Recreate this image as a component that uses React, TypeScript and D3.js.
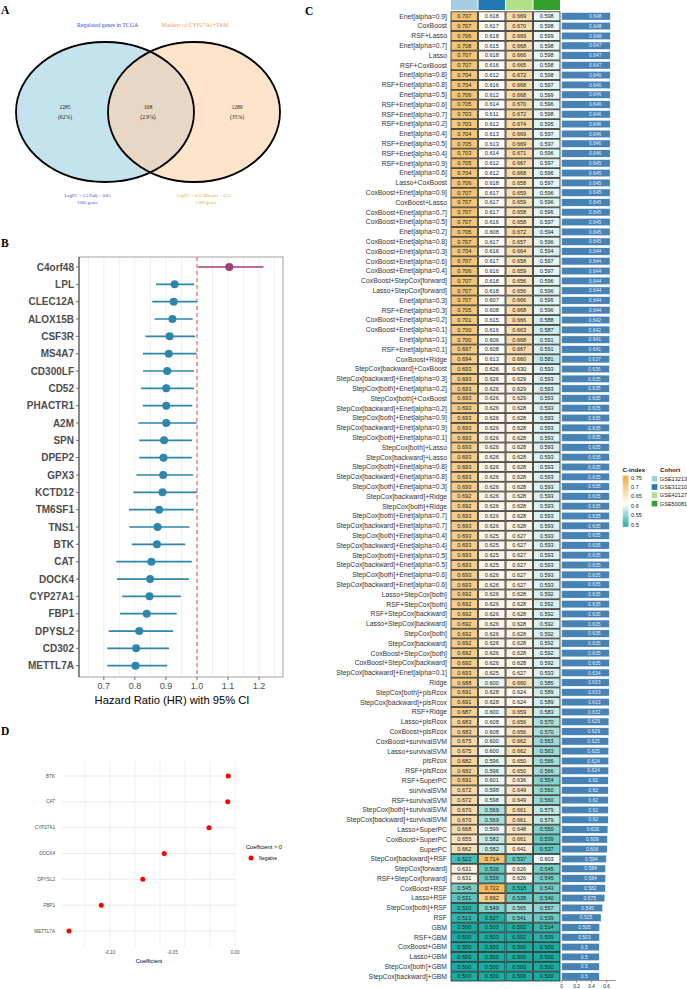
import React from "react";
import * as d3 from "d3";

// ---------- panel A: venn ----------
const vennSets = ["Regulated genes in TCGA", "Markers of CYP27A1+TAM"];
const vennFilters = ["LogFC > 1.5 Padj < 0.05", "LogFC > 0.25 Min.pct = 0.25"];
const vennTotals = ["2285 genes", "1289 genes"];
const vennCounts = [2285, 108, 1289];
const vennShares = ["62%", "2.9%", "35%"];

// ---------- panel B: univariate cox forest ----------
const forestGenes = ["C4orf48", "LPL", "CLEC12A", "ALOX15B", "CSF3R", "MS4A7", "CD300LF", "CD52",
  "PHACTR1", "A2M", "SPN", "DPEP2", "GPX3", "KCTD12", "TM6SF1", "TNS1", "BTK", "CAT", "DOCK4",
  "CYP27A1", "FBP1", "DPYSL2", "CD302", "METTL7A"];
const forestHR = [1.104, 0.928, 0.925, 0.921, 0.912, 0.909, 0.904, 0.901, 0.901, 0.901, 0.894, 0.892,
  0.891, 0.889, 0.878, 0.873, 0.871, 0.853, 0.849, 0.847, 0.838, 0.814, 0.804, 0.802];
const forestLow = [1.004, 0.868, 0.856, 0.863, 0.834, 0.826, 0.826, 0.820, 0.825, 0.811, 0.814, 0.814,
  0.805, 0.795, 0.781, 0.782, 0.790, 0.740, 0.742, 0.759, 0.752, 0.716, 0.711, 0.711];
const forestHigh = [1.214, 0.991, 0.999, 0.986, 0.994, 0.999, 0.990, 0.990, 0.985, 0.999, 0.984, 0.983,
  0.988, 0.999, 0.990, 0.976, 0.962, 0.983, 0.974, 0.948, 0.935, 0.923, 0.910, 0.904];

// ---------- panel D: lasso coefficients ----------
const coefGenes = ["BTK", "CAT", "CYP27A1", "DOCK4", "DPYSL2", "FBP1", "METTL7A"];
const coefValues = [-0.0054, -0.0058, -0.0208, -0.0566, -0.0738, -0.107, -0.1328];

// ---------- panel C: C-index heatmap ----------
const cohorts = ["GSE13213", "GSE31210", "GSE42127", "GSE50081"];
const cohortColors = ["#a6cee3", "#1f78b4", "#b2df8a", "#33a02c"];
const models = [
  "Enet[alpha=0.9]", "CoxBoost", "RSF+Lasso", "Enet[alpha=0.7]", "Lasso", "RSF+CoxBoost",
  "Enet[alpha=0.8]", "RSF+Enet[alpha=0.8]", "Enet[alpha=0.5]", "RSF+Enet[alpha=0.6]",
  "RSF+Enet[alpha=0.7]", "RSF+Enet[alpha=0.2]", "Enet[alpha=0.4]", "RSF+Enet[alpha=0.5]",
  "RSF+Enet[alpha=0.4]", "RSF+Enet[alpha=0.9]", "Enet[alpha=0.6]", "Lasso+CoxBoost",
  "CoxBoost+Enet[alpha=0.9]", "CoxBoost+Lasso", "CoxBoost+Enet[alpha=0.7]", "CoxBoost+Enet[alpha=0.5]",
  "Enet[alpha=0.2]", "CoxBoost+Enet[alpha=0.8]", "CoxBoost+Enet[alpha=0.3]", "CoxBoost+Enet[alpha=0.6]",
  "CoxBoost+Enet[alpha=0.4]", "CoxBoost+StepCox[forward]", "Lasso+StepCox[forward]", "Enet[alpha=0.3]",
  "RSF+Enet[alpha=0.3]", "CoxBoost+Enet[alpha=0.2]", "CoxBoost+Enet[alpha=0.1]", "Enet[alpha=0.1]",
  "RSF+Enet[alpha=0.1]", "CoxBoost+Ridge", "StepCox[backward]+CoxBoost", "StepCox[backward]+Enet[alpha=0.3]",
  "StepCox[both]+Enet[alpha=0.2]", "StepCox[both]+CoxBoost", "StepCox[backward]+Enet[alpha=0.2]",
  "StepCox[both]+Enet[alpha=0.9]", "StepCox[backward]+Enet[alpha=0.9]", "StepCox[both]+Enet[alpha=0.1]",
  "StepCox[both]+Lasso", "StepCox[backward]+Lasso", "StepCox[both]+Enet[alpha=0.8]",
  "StepCox[backward]+Enet[alpha=0.8]", "StepCox[both]+Enet[alpha=0.3]", "StepCox[backward]+Ridge",
  "StepCox[both]+Ridge", "StepCox[both]+Enet[alpha=0.7]", "StepCox[backward]+Enet[alpha=0.7]",
  "StepCox[both]+Enet[alpha=0.4]", "StepCox[backward]+Enet[alpha=0.4]", "StepCox[both]+Enet[alpha=0.5]",
  "StepCox[backward]+Enet[alpha=0.5]", "StepCox[both]+Enet[alpha=0.6]", "StepCox[backward]+Enet[alpha=0.6]",
  "Lasso+StepCox[both]", "RSF+StepCox[both]", "RSF+StepCox[backward]", "Lasso+StepCox[backward]",
  "StepCox[both]", "StepCox[backward]", "CoxBoost+StepCox[both]", "CoxBoost+StepCox[backward]",
  "StepCox[backward]+Enet[alpha=0.1]", "Ridge", "StepCox[both]+plsRcox", "StepCox[backward]+plsRcox",
  "RSF+Ridge", "Lasso+plsRcox", "CoxBoost+plsRcox", "CoxBoost+survivalSVM", "Lasso+survivalSVM",
  "plsRcox", "RSF+plsRcox", "RSF+SuperPC", "survivalSVM", "RSF+survivalSVM", "StepCox[both]+survivalSVM",
  "StepCox[backward]+survivalSVM", "Lasso+SuperPC", "CoxBoost+SuperPC", "SuperPC", "StepCox[backward]+RSF",
  "StepCox[forward]", "RSF+StepCox[forward]", "CoxBoost+RSF", "Lasso+RSF", "StepCox[both]+RSF", "RSF",
  "GBM", "RSF+GBM", "CoxBoost+GBM", "Lasso+GBM", "StepCox[both]+GBM", "StepCox[backward]+GBM",
];
const cGSE13213 = [
  0.707, 0.707, 0.706, 0.708, 0.707, 0.707, 0.704, 0.704, 0.706, 0.705,
  0.703, 0.703, 0.704, 0.705, 0.703, 0.705, 0.704, 0.706, 0.707, 0.707,
  0.707, 0.707, 0.705, 0.707, 0.704, 0.707, 0.706, 0.707, 0.707, 0.707,
  0.705, 0.701, 0.700, 0.700, 0.697, 0.694, 0.693, 0.693, 0.693, 0.693,
  0.693, 0.693, 0.693, 0.693, 0.693, 0.693, 0.693, 0.693, 0.693, 0.692,
  0.692, 0.693, 0.693, 0.693, 0.693, 0.693, 0.693, 0.693, 0.693, 0.692,
  0.692, 0.692, 0.692, 0.692, 0.692, 0.692, 0.692, 0.693, 0.688, 0.691,
  0.691, 0.687, 0.683, 0.683, 0.675, 0.675, 0.682, 0.682, 0.691, 0.672,
  0.672, 0.670, 0.670, 0.668, 0.655, 0.662, 0.522, 0.631, 0.631, 0.545,
  0.531, 0.510, 0.513, 0.500, 0.500, 0.500, 0.500, 0.500, 0.500,
];
const cGSE31210 = [
  0.618, 0.617, 0.618, 0.615, 0.618, 0.616, 0.612, 0.616, 0.612, 0.614,
  0.611, 0.612, 0.613, 0.613, 0.614, 0.612, 0.612, 0.618, 0.617, 0.617,
  0.617, 0.616, 0.608, 0.617, 0.616, 0.617, 0.616, 0.618, 0.618, 0.607,
  0.608, 0.615, 0.616, 0.606, 0.608, 0.613, 0.626, 0.626, 0.626, 0.626,
  0.626, 0.626, 0.626, 0.626, 0.626, 0.626, 0.626, 0.626, 0.626, 0.626,
  0.626, 0.626, 0.626, 0.625, 0.625, 0.625, 0.625, 0.626, 0.626, 0.626,
  0.626, 0.626, 0.626, 0.626, 0.626, 0.626, 0.626, 0.625, 0.600, 0.628,
  0.628, 0.600, 0.608, 0.608, 0.600, 0.600, 0.596, 0.596, 0.601, 0.598,
  0.598, 0.569, 0.569, 0.599, 0.582, 0.582, 0.714, 0.536, 0.536, 0.722,
  0.692, 0.549, 0.507, 0.503, 0.503, 0.500, 0.500, 0.500, 0.500,
];
const cGSE42127 = [
  0.669, 0.670, 0.669, 0.668, 0.666, 0.665, 0.672, 0.668, 0.668, 0.670,
  0.672, 0.674, 0.669, 0.669, 0.671, 0.667, 0.668, 0.658, 0.659, 0.659,
  0.658, 0.658, 0.672, 0.657, 0.664, 0.658, 0.659, 0.656, 0.656, 0.666,
  0.668, 0.666, 0.663, 0.668, 0.667, 0.660, 0.630, 0.629, 0.629, 0.629,
  0.628, 0.628, 0.628, 0.628, 0.628, 0.628, 0.628, 0.628, 0.628, 0.628,
  0.628, 0.628, 0.628, 0.627, 0.627, 0.627, 0.627, 0.627, 0.627, 0.628,
  0.628, 0.628, 0.628, 0.628, 0.628, 0.628, 0.628, 0.627, 0.660, 0.624,
  0.624, 0.659, 0.656, 0.656, 0.662, 0.662, 0.650, 0.650, 0.636, 0.649,
  0.649, 0.661, 0.661, 0.648, 0.661, 0.641, 0.537, 0.626, 0.626, 0.518,
  0.538, 0.565, 0.541, 0.502, 0.502, 0.500, 0.500, 0.500, 0.500,
];
const cGSE50081 = [
  0.598, 0.598, 0.599, 0.598, 0.598, 0.598, 0.598, 0.597, 0.599, 0.596,
  0.598, 0.595, 0.597, 0.597, 0.596, 0.597, 0.596, 0.597, 0.596, 0.596,
  0.596, 0.597, 0.594, 0.596, 0.594, 0.597, 0.597, 0.596, 0.596, 0.596,
  0.596, 0.588, 0.587, 0.591, 0.591, 0.581, 0.593, 0.593, 0.593, 0.593,
  0.593, 0.593, 0.593, 0.593, 0.593, 0.593, 0.593, 0.593, 0.593, 0.593,
  0.593, 0.593, 0.593, 0.593, 0.593, 0.593, 0.593, 0.593, 0.593, 0.592,
  0.592, 0.592, 0.592, 0.592, 0.592, 0.592, 0.592, 0.593, 0.585, 0.589,
  0.589, 0.583, 0.570, 0.570, 0.563, 0.563, 0.566, 0.566, 0.554, 0.560,
  0.560, 0.579, 0.579, 0.550, 0.539, 0.537, 0.603, 0.545, 0.545, 0.543,
  0.540, 0.557, 0.539, 0.514, 0.509, 0.500, 0.500, 0.500, 0.500,
];
const meanC = [
  0.648, 0.648, 0.648, 0.647, 0.647, 0.647, 0.646, 0.646, 0.646, 0.646,
  0.646, 0.646, 0.646, 0.646, 0.646, 0.645, 0.645, 0.645, 0.645, 0.645,
  0.645, 0.645, 0.645, 0.645, 0.644, 0.644, 0.644, 0.644, 0.644, 0.644,
  0.644, 0.642, 0.642, 0.641, 0.641, 0.637, 0.635, 0.635, 0.635, 0.635,
  0.635, 0.635, 0.635, 0.635, 0.635, 0.635, 0.635, 0.635, 0.635, 0.635,
  0.635, 0.635, 0.635, 0.635, 0.635, 0.635, 0.635, 0.635, 0.635, 0.635,
  0.635, 0.635, 0.635, 0.635, 0.635, 0.635, 0.635, 0.634, 0.633, 0.633,
  0.633, 0.632, 0.629, 0.629, 0.625, 0.625, 0.624, 0.624, 0.62, 0.62,
  0.62, 0.62, 0.62, 0.616, 0.609, 0.606, 0.594, 0.584, 0.584, 0.582,
  0.575, 0.545, 0.525, 0.505, 0.503, 0.5, 0.5, 0.5, 0.5,
];
const legendTicks = [0.75, 0.7, 0.65, 0.6, 0.55, 0.5];
const barTicks = [0, 0.2, 0.4, 0.6];

const sans = "'Liberation Sans', Arial, sans-serif";
const serif = "'Liberation Serif', 'Times New Roman', serif";

const PanelLabel = ({ x, y, t }: { x: number; y: number; t: string }) => (
  <text x={x} y={y} fontFamily={serif} fontWeight="bold" fontSize={11.5}>{t}</text>
);

const Venn = () => {
  const L = { cx: 105, cy: 112, rx: 89, ry: 70 };
  const R = { cx: 194, cy: 112, rx: 86, ry: 70 };
  const cx = [65, 148, 237];
  return (
    <g fontFamily={serif}>
      <defs>
        <clipPath id="vennLeft"><ellipse {...L} /></clipPath>
      </defs>
      <ellipse {...L} fill="#c5e3ed" />
      <ellipse {...R} fill="#fde4cb" />
      <ellipse {...R} fill="#e7d7c4" clipPath="url(#vennLeft)" />
      <ellipse {...L} fill="none" stroke="#000" strokeWidth={1.8} />
      <ellipse {...R} fill="none" stroke="#000" strokeWidth={1.8} />
      <text x={107.5} y={27} fontSize={5.8} fill="#4444ee" textAnchor="middle">{vennSets[0]}</text>
      <text x={195} y={27} fontSize={5.8} fill="#f5a040" textAnchor="middle">{vennSets[1]}</text>
      {vennCounts.map((c, i) => (
        <g key={i} fontSize={5.6} fill="#222" textAnchor="middle">
          <text x={cx[i]} y={109}>{c}</text>
          <text x={cx[i]} y={119}>({vennShares[i]})</text>
        </g>
      ))}
      <g fontSize={4.6} textAnchor="middle">
        <text x={87.5} y={197} fill="#4444ee">{vennFilters[0]}</text>
        <text x={87.5} y={204} fill="#4444ee">{vennTotals[0]}</text>
        <text x={204} y={197} fill="#f5a040">{vennFilters[1]}</text>
        <text x={206} y={204} fill="#f5a040">{vennTotals[1]}</text>
      </g>
    </g>
  );
};

const Forest = () => {
  const left = 79, right = 283, top = 257, bottom = 677;
  const x = d3.scaleLinear().domain([0.62, 1.277]).range([left, right]);
  const y = d3.scalePoint<string>().domain(forestGenes).range([267, 665.7]);
  const minor = x.ticks(14);
  const major = x.ticks(6);
  return (
    <g fontFamily={sans}>
      <rect x={left} y={top} width={right - left} height={bottom - top} fill="#fff" />
      {minor.map((t) => (
        <line key={t} x1={x(t)} x2={x(t)} y1={top} y2={bottom} stroke="#ebebeb" strokeWidth={0.8} />
      ))}
      <line x1={x(1)} x2={x(1)} y1={top} y2={bottom} stroke="#f24a4a" strokeWidth={1} strokeDasharray="4,3" />
      {forestGenes.map((g, i) => {
        const c = i === 0 ? "#A23B72" : "#2E86AB";
        return (
          <g key={g}>
            <line x1={x(forestLow[i])} x2={x(forestHigh[i])} y1={y(g)} y2={y(g)} stroke={c} strokeWidth={1.7} />
            <circle cx={x(forestHR[i])} cy={y(g)} r={4} fill={c} />
            <line x1={left - 3} x2={left} y1={y(g)} y2={y(g)} stroke="#333" strokeWidth={0.7} />
            <text x={left - 5} y={y(g)} dy="0.35em" textAnchor="end" fontWeight="bold" fontSize={10} fill="#4d4d4d">{g}</text>
          </g>
        );
      })}
      <rect x={left} y={top} width={right - left} height={bottom - top} fill="none" stroke="#8c8c8c" strokeWidth={0.8} />
      <line x1={left} x2={left} y1={top} y2={bottom} stroke="#333" strokeWidth={0.9} />
      {major.map((t) => (
        <g key={t}>
          <line x1={x(t)} x2={x(t)} y1={bottom} y2={bottom + 3} stroke="#333" strokeWidth={0.7} />
          <text x={x(t)} y={bottom + 12} textAnchor="middle" fontSize={9} fill="#4d4d4d">{d3.format(".1f")(t)}</text>
        </g>
      ))}
      <text x={(left + right) / 2 - 9} y={704} textAnchor="middle" fontSize={11.2} fill="#000">Hazard Ratio (HR) with 95% CI</text>
    </g>
  );
};

const Lollipop = () => {
  const left = 62, right = 236, top = 760, bottom = 947;
  const x = d3.scaleLinear().domain([-0.1384, 0.0008]).range([left, right]);
  const y = d3.scalePoint<string>().domain(coefGenes).range([776, 931]);
  const fmt = (v: number) => d3.format(".2f")(v).replace("\u2212", "-");
  return (
    <g fontFamily={sans}>
      {x.ticks(6).map((t) => (
        <line key={t} x1={x(t)} x2={x(t)} y1={top} y2={bottom} stroke="#ebebeb" strokeWidth={0.8} />
      ))}
      {coefGenes.map((g, i) => (
        <g key={g}>
          <line x1={left} x2={right} y1={y(g)} y2={y(g)} stroke="#ebebeb" strokeWidth={1} />
          <text x={55} y={y(g)} dy="0.35em" textAnchor="end" fontSize={4.6} fill="#4d4d4d">{g}</text>
          <circle cx={x(coefValues[i])} cy={y(g)} r={2.5} fill="#ff0000" />
        </g>
      ))}
      {x.ticks(3).map((t) => (
        <text key={t} x={x(t)} y={954} textAnchor="middle" fontSize={4.6} fill="#4d4d4d">{fmt(t)}</text>
      ))}
      <text x={(left + right) / 2} y={963} textAnchor="middle" fontSize={5.6} fill="#000">Coefficient</text>
      <text x={246} y={849} fontSize={5.6} fill="#000">Coefficient &gt; 0</text>
      <circle cx={251} cy={858} r={2.5} fill="#ff0000" />
      <text x={259} y={858} dy="0.35em" fontSize={4.6} fill="#000">Negative</text>
    </g>
  );
};

const Heatmap = () => {
  const values = [cGSE13213, cGSE31210, cGSE42127, cGSE50081];
  const y = d3.scaleBand<string>().domain(models).range([11.8, 981]).paddingInner(0.08);
  const x = d3.scaleBand<string>().domain(cohorts).range([451, 560]).paddingInner(0.035);
  const xb = d3.scaleLinear().domain([0, 0.6]).range([561.7, 606.7]);
  const color = d3.scaleLinear<string>().domain([0.5, 0.61, 0.75])
    .range(["#17ada1", "#ffffff", "#f0aa36"]).clamp(true);
  const bh = 7.4;
  const yl = d3.scaleLinear().domain([0.5, 0.75]).range([524.7, 477.7]);
  const gradStops = [0.75, 0.72, 0.69, 0.66, 0.63, 0.61, 0.59, 0.57, 0.55, 0.53, 0.5];
  return (
    <g fontFamily={sans}>
      <defs>
        <linearGradient id="cGrad" x1="0" y1="0" x2="0" y2="1">
          {gradStops.map((v) => (
            <stop key={v} offset={(0.75 - v) / 0.25} stopColor={color(v)} />
          ))}
        </linearGradient>
      </defs>
      {cohorts.map((c, j) => (
        <rect key={c} x={x(c)} y={0} width={x.bandwidth()} height={10} fill={cohortColors[j]} />
      ))}
      {models.map((m, i) => {
        const yy = y(m)!;
        const cy = yy + y.bandwidth() / 2;
        return (
          <g key={m}>
            <text x={447} y={cy} dy="0.35em" textAnchor="end" fontSize={6.8} fill="#333">{m}</text>
            {cohorts.map((c, j) => (
              <g key={c}>
                <rect x={x(c)} y={yy} width={x.bandwidth()} height={y.bandwidth()}
                  fill={color(values[j][i])} stroke="#2a2a2a" strokeWidth={0.8} />
                <text x={x(c)! + x.bandwidth() / 2} y={cy} dy="0.35em" textAnchor="middle" fontSize={5.6} fill="#222">
                  {values[j][i].toFixed(3)}
                </text>
              </g>
            ))}
            <rect x={xb(0)} y={cy - bh / 2} width={xb(meanC[i]) - xb(0)} height={bh}
              fill="#4682b4" stroke="#ffffff" strokeWidth={0.4} />
            <text x={xb(meanC[i] - 0.2)} y={cy} dy="0.35em" textAnchor="middle" fontSize={5} fill="#e4edf5">
              {String(meanC[i])}
            </text>
          </g>
        );
      })}
      <line x1={xb(0)} x2={615.7} y1={980.6} y2={980.6} stroke="#222" strokeWidth={0.5} />
      {barTicks.map((t) => (
        <g key={t}>
          <line x1={xb(t)} x2={xb(t)} y1={980.6} y2={982.6} stroke="#222" strokeWidth={0.5} />
          <text x={xb(t)} y={988} textAnchor="middle" fontSize={4.8} fill="#222">{String(t)}</text>
        </g>
      ))}
      {/* legends */}
      <text x={622.5} y={471.5} fontSize={6.2} fontWeight="bold" fill="#222">C-index</text>
      <rect x={622.7} y={yl(0.75) - 2} width={5.8} height={yl(0.5) - yl(0.75) + 4} fill="url(#cGrad)" />
      {legendTicks.map((t) => (
        <g key={t}>
          <line x1={622.7} x2={624} y1={yl(t)} y2={yl(t)} stroke="#fff" strokeWidth={0.5} />
          <line x1={627.2} x2={628.5} y1={yl(t)} y2={yl(t)} stroke="#fff" strokeWidth={0.5} />
          <text x={631} y={yl(t)} dy="0.35em" fontSize={5.6} fill="#222">{String(t)}</text>
        </g>
      ))}
      <text x={660} y={471.5} fontSize={6.2} fontWeight="bold" fill="#222">Cohort</text>
      {cohorts.map((c, j) => (
        <g key={c}>
          <rect x={651.7} y={478.7 + j * 8.3 - 2.8} width={5.6} height={5.6} fill={cohortColors[j]} />
          <text x={659.8} y={478.7 + j * 8.3} dy="0.35em" fontSize={5.6} fill="#222">{c}</text>
        </g>
      ))}
    </g>
  );
};

export default function App() {
  return (
    <svg width={687} height={989} viewBox="0 0 687 989"
      style={{ position: "absolute", left: 0, top: 0, background: "#fff" }}>
      <rect width={687} height={989} fill="#fff" />
      <Venn />
      <Forest />
      <Lollipop />
      <Heatmap />
      <PanelLabel x={1} y={14} t="A" />
      <PanelLabel x={1} y={247} t="B" />
      <PanelLabel x={305} y={15} t="C" />
      <PanelLabel x={1} y={735} t="D" />
    </svg>
  );
}
